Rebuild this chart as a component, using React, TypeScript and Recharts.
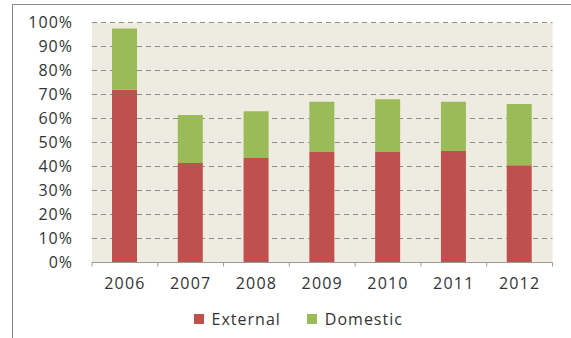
import { Bar, BarChart, CartesianGrid, Legend, XAxis, YAxis } from "recharts";

const years = ["2006", "2007", "2008", "2009", "2010", "2011", "2012"];
const external = [72, 41.5, 43.5, 46, 46, 46.5, 40.5];
const domestic = [25.5, 20, 19.5, 21, 22, 20.5, 25.5];
const yTicks = [0, 10, 20, 30, 40, 50, 60, 70, 80, 90, 100];
const seriesOrder = ["External", "Domestic"];

const RED = "#C0504D";
const GREEN = "#9BBB59";
const TEXT = "#333333";
const FONT = "'Open Sans', 'DejaVu Sans', sans-serif";

const data = years.map((year, i) => ({
  year,
  External: external[i],
  Domestic: domestic[i],
}));

// width of one category band in the plot (plot is 92 -> 552.5)
const BAND = (552.5 - 92) / years.length;

function YearTick(props: any) {
  const { x, y, payload, index } = props;
  const left = x - BAND / 2;
  return (
    <g>
      <line x1={left} x2={left} y1={y - 15} y2={y - 11} stroke="#9a9a9a" />
      {index === years.length - 1 && (
        <line x1={x + BAND / 2} x2={x + BAND / 2} y1={y - 15} y2={y - 11} stroke="#9a9a9a" />
      )}
      <text
        x={x}
        y={y}
        dy="0.71em"
        textAnchor="middle"
        fill={TEXT}
        fontSize={16}
        fontWeight={500}
        fontFamily={FONT}
        letterSpacing={1.2}
      >
        {payload.value}
      </text>
    </g>
  );
}

function LegendBox({ payload }: any) {
  const items = [...(payload ?? [])].sort(
    (a: any, b: any) => seriesOrder.indexOf(a.value) - seriesOrder.indexOf(b.value)
  );
  return (
    <div
      style={{
        display: "flex",
        justifyContent: "center",
        paddingTop: 15,
        paddingLeft: 32,
        fontFamily: FONT,
      }}
    >
      {items.map((p: any, i: number) => (
        <div
          key={p.value}
          style={{ display: "flex", alignItems: "center", marginLeft: i === 0 ? 0 : 26 }}
        >
          <span style={{ width: 10, height: 10, background: p.color, display: "inline-block" }} />
          <span
            style={{ marginLeft: 8, fontSize: 16, fontWeight: 500, color: TEXT, letterSpacing: 1 }}
          >
            {p.value}
          </span>
        </div>
      ))}
    </div>
  );
}

export default function App() {
  return (
    <div
      style={{
        position: "absolute",
        left: 0,
        top: 0,
        width: 571,
        height: 338,
        background: "#ffffff",
        overflow: "hidden",
      }}
    >
      <div
        style={{
          position: "absolute",
          left: 12,
          top: 4,
          width: 571,
          height: 340,
          borderLeft: "1px solid #8a8a8a",
          borderTop: "1px solid #8a8a8a",
        }}
      />
      <BarChart
        width={571}
        height={338}
        data={data}
        margin={{ top: 22.5, right: 18.5, bottom: 0, left: 12 }}
        style={{ position: "absolute", left: 0, top: 0 }}
      >
        <CartesianGrid
          vertical={false}
          fill="#EEEBE1"
          stroke="#8c8c8c"
          strokeDasharray="5 4"
        />
        <YAxis
          width={80}
          domain={[0, 100]}
          ticks={yTicks}
          tickFormatter={(v) => `${v}%`}
          axisLine={false}
          tickLine={false}
          tickSize={0}
          tickMargin={19}
          interval={0}
          tick={{ fill: TEXT, fontSize: 16, fontWeight: 500, fontFamily: FONT, letterSpacing: 1 }}
        />
        <XAxis
          dataKey="year"
          height={30}
          axisLine={{ stroke: "#9a9a9a" }}
          tickLine={false}
          tickSize={0}
          tickMargin={15}
          interval={0}
          tick={<YearTick />}
        />
        <Legend verticalAlign="bottom" height={45.5} content={<LegendBox />} />
        <Bar dataKey="External" stackId="a" fill={RED} barSize={25} isAnimationActive={false} />
        <Bar dataKey="Domestic" stackId="a" fill={GREEN} barSize={25} isAnimationActive={false} />
      </BarChart>
    </div>
  );
}
